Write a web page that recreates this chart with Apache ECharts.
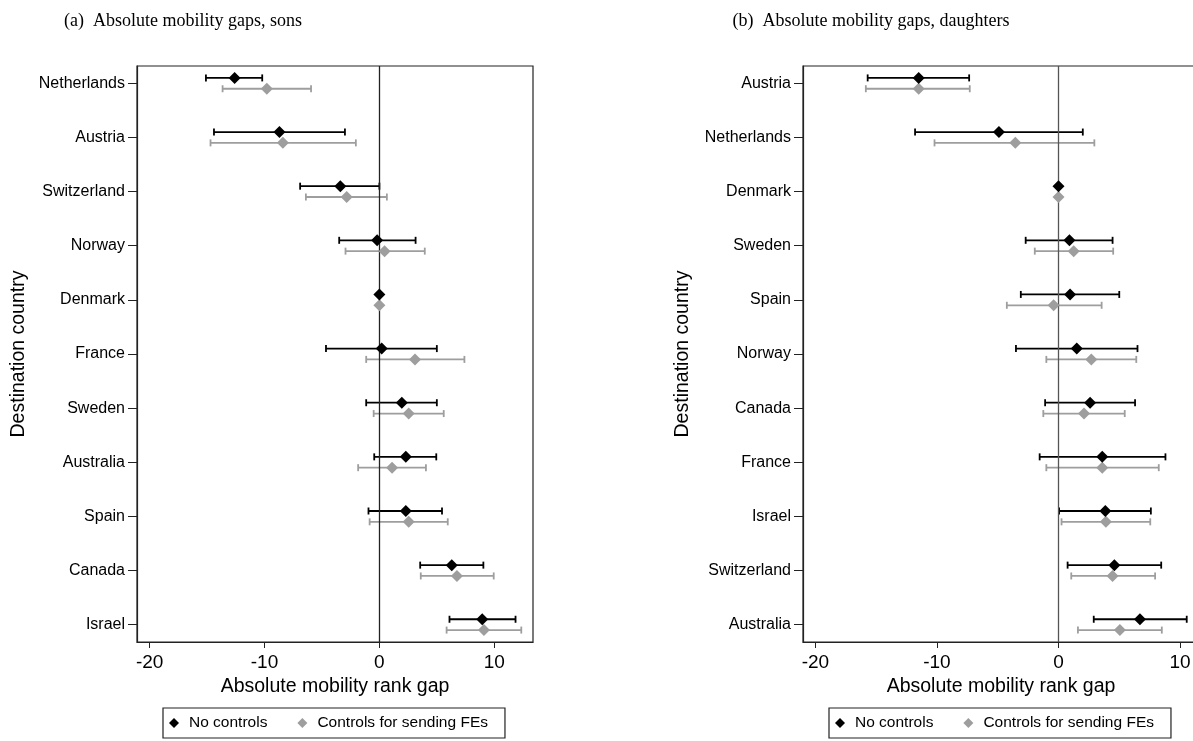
<!DOCTYPE html>
<html>
<head>
<meta charset="utf-8">
<script src="https://cdn.jsdelivr.net/npm/echarts@6/dist/echarts.min.js"></script>
<style>
  html, body { margin: 0; padding: 0; background: #fff; }
  #chart { width: 1193px; height: 741px; }
</style>
</head>
<body>
<div id="chart"></div>
<script>
// ---------- Data ----------
const panelTitles = ["(a)  Absolute mobility gaps, sons", "(b)  Absolute mobility gaps, daughters"];
const xTickValues = [-20, -10, 0, 10];
const seriesNames = ["No controls", "Controls for sending FEs"];

// Panel (a): sons, top to bottom
const sonsCountries = ["Netherlands", "Austria", "Switzerland", "Norway", "Denmark", "France", "Sweden", "Australia", "Spain", "Canada", "Israel"];
const sonsNoCtrl    = [-12.6, -8.7, -3.4, -0.2, 0, 0.2, 1.95, 2.3, 2.3, 6.3, 8.95];
const sonsNoCtrlLo  = [-15.1, -14.4, -6.9, -3.5, null, -4.65, -1.15, -0.45, -0.95, 3.55, 6.1];
const sonsNoCtrlHi  = [-10.2, -3.0, 0.0, 3.15, null, 5.0, 5.0, 4.95, 5.45, 9.05, 11.85];
const sonsFE        = [-9.8, -8.4, -2.85, 0.45, 0, 3.1, 2.55, 1.1, 2.55, 6.75, 9.1];
const sonsFELo      = [-13.65, -14.7, -6.4, -2.95, null, -1.15, -0.5, -1.85, -0.85, 3.6, 5.85];
const sonsFEHi      = [-5.95, -2.05, 0.65, 3.95, null, 7.4, 5.6, 4.05, 5.95, 9.95, 12.35];

// Panel (b): daughters, top to bottom
const daughtersCountries = ["Austria", "Netherlands", "Denmark", "Sweden", "Spain", "Norway", "Canada", "France", "Israel", "Switzerland", "Australia"];
const daughtersNoCtrl    = [-11.5, -4.9, 0, 0.9, 0.95, 1.5, 2.6, 3.6, 3.85, 4.6, 6.7];
const daughtersNoCtrlLo  = [-15.7, -11.8, null, -2.7, -3.1, -3.5, -1.1, -1.55, 0.05, 0.75, 2.9];
const daughtersNoCtrlHi  = [-7.35, 2.0, null, 4.45, 5.0, 6.5, 6.3, 8.8, 7.6, 8.45, 10.55];
const daughtersFE        = [-11.5, -3.55, 0, 1.25, -0.4, 2.7, 2.1, 3.6, 3.9, 4.45, 5.05];
const daughtersFELo      = [-15.85, -10.2, null, -1.95, -4.25, -1.0, -1.25, -1.0, 0.25, 1.05, 1.6];
const daughtersFEHi      = [-7.3, 2.95, null, 4.5, 3.55, 6.4, 5.45, 8.25, 7.55, 7.95, 8.5];

// ---------- Styling ----------
const SANS = "'Liberation Sans', Arial, Helvetica, sans-serif";
const SERIF = "'Liberation Serif', 'Times New Roman', serif";
const BLACK = "#000000";
const GREY = "#9e9e9e";
const ROW_SHIFT = 0.1;

const panels = [
  { countries: sonsCountries, a: sonsNoCtrl, aLo: sonsNoCtrlLo, aHi: sonsNoCtrlHi,
    b: sonsFE, bLo: sonsFELo, bHi: sonsFEHi,
    grid: { left: 137, width: 396, top: 66, bottom: 99 },
    xMin: -21.1, xMax: 13.37, zeroColor: "#222", nameShift: 0, yNameGap: 108,
    titleX: 178, legendLeft: 163 },
  { countries: daughtersCountries, a: daughtersNoCtrl, aLo: daughtersNoCtrlLo, aHi: daughtersNoCtrlHi,
    b: daughtersFE, bLo: daughtersFELo, bHi: daughtersFEHi,
    grid: { left: 803, width: 418, top: 66, bottom: 99 },
    xMin: -21.02, xMax: 13.37, zeroColor: "#555", nameShift: 22, yNameGap: 110,
    titleX: 866, legendLeft: 829 }
];

function errorBarRender(color) {
  return function (params, api) {
    const lo = api.value(0), hi = api.value(1), y = api.value(2);
    if (lo == null || hi == null || isNaN(lo) || isNaN(hi)) return null;
    const p1 = api.coord([lo, y]);
    const p2 = api.coord([hi, y]);
    const cap = 3.5;
    const style = { stroke: color, lineWidth: 1.8 };
    return {
      type: 'group',
      children: [
        { type: 'line', shape: { x1: p1[0], y1: p1[1], x2: p2[0], y2: p2[1] }, style },
        { type: 'line', shape: { x1: p1[0], y1: p1[1] - cap, x2: p1[0], y2: p1[1] + cap }, style },
        { type: 'line', shape: { x1: p2[0], y1: p2[1] - cap, x2: p2[0], y2: p2[1] + cap }, style }
      ]
    };
  };
}

const option = {
  animation: false,
  backgroundColor: '#ffffff',
  title: [], grid: [], xAxis: [], yAxis: [], series: [], legend: []
};

panels.forEach((p, i) => {
  const rows = p.countries.map((_, k) => k);
  option.title.push({
    text: panelTitles[i], left: p.titleX, top: 7, textAlign: 'center',
    textStyle: { fontFamily: SERIF, fontSize: 18, fontWeight: 'normal', color: '#000' }
  });
  option.grid.push(Object.assign({
    show: true, borderColor: '#222', borderWidth: 1.2, backgroundColor: '#fff',
    containLabel: false, outerBoundsMode: 'none'
  }, p.grid));
  option.xAxis.push({
    type: 'value', gridIndex: i, min: p.xMin, max: p.xMax,
    name: 'Absolute mobility rank gap', nameLocation: 'middle', nameGap: 34,
    nameTextStyle: { fontFamily: SANS, fontSize: 19.5, color: '#000', padding: [0, p.nameShift, 0, 0] },
    axisLine: { show: true, onZero: false, lineStyle: { color: '#222', width: 1.2 } },
    axisTick: { show: true, length: 6, customValues: xTickValues, lineStyle: { color: '#222' } },
    axisLabel: { customValues: xTickValues, margin: 11, fontFamily: SANS, fontSize: 19, color: '#000' },
    splitLine: { show: false }
  });
  option.yAxis.push({
    type: 'value', gridIndex: i, min: -0.32, max: 10.32, inverse: true,
    name: 'Destination country', nameLocation: 'middle', nameGap: p.yNameGap,
    nameTextStyle: { fontFamily: SANS, fontSize: 19.5, color: '#000' },
    axisLine: { show: true, onZero: false, lineStyle: { color: '#222', width: 1.2 } },
    axisTick: { show: true, length: 9, customValues: rows, lineStyle: { color: '#222' } },
    axisLabel: {
      customValues: rows, margin: 12, fontFamily: SANS, fontSize: 16, color: '#000',
      formatter: (v) => p.countries[Math.round(v)]
    },
    splitLine: { show: false }
  });

  const ciA = p.countries.map((_, k) => [p.aLo[k], p.aHi[k], k - ROW_SHIFT]);
  const ciB = p.countries.map((_, k) => [p.bLo[k], p.bHi[k], k + ROW_SHIFT]);
  const ptA = p.countries.map((_, k) => [p.a[k], k - ROW_SHIFT]);
  const ptB = p.countries.map((_, k) => [p.b[k], k + ROW_SHIFT]);

  option.series.push({
    type: 'scatter', name: 'zero-line-' + i, xAxisIndex: i, yAxisIndex: i, data: [], silent: true,
    markLine: { silent: true, symbol: ['none', 'none'], label: { show: false },
      lineStyle: { color: p.zeroColor, type: 'solid', width: 1.3 }, data: [{ xAxis: 0 }] }
  });
  option.series.push({
    type: 'custom', name: 'ci-fe-' + i, xAxisIndex: i, yAxisIndex: i, data: ciB,
    encode: { x: [0, 1], y: 2 }, renderItem: errorBarRender(GREY), silent: true, z: 3
  });
  option.series.push({
    type: 'custom', name: 'ci-none-' + i, xAxisIndex: i, yAxisIndex: i, data: ciA,
    encode: { x: [0, 1], y: 2 }, renderItem: errorBarRender(BLACK), silent: true, z: 3
  });
  option.series.push({
    type: 'scatter', name: seriesNames[1], xAxisIndex: i, yAxisIndex: i, data: ptB,
    symbol: 'diamond', symbolSize: 12, itemStyle: { color: GREY, opacity: 1 }, z: 5
  });
  option.series.push({
    type: 'scatter', name: seriesNames[0], xAxisIndex: i, yAxisIndex: i, data: ptA,
    symbol: 'diamond', symbolSize: 12, itemStyle: { color: BLACK, opacity: 1 }, z: 6
  });

  option.legend.push({
    left: p.legendLeft, top: 708, orient: 'horizontal',
    data: [
      { name: seriesNames[0], icon: 'diamond', itemStyle: { color: BLACK } },
      { name: seriesNames[1], icon: 'diamond', itemStyle: { color: GREY } }
    ],
    itemWidth: 10, itemHeight: 10, itemGap: 30,
    padding: [7, 17, 7, 6],
    borderColor: '#222', borderWidth: 1.2, selectedMode: false,
    textStyle: { fontFamily: SANS, fontSize: 15.5, color: '#000', padding: [0, 0, 0, 5] }
  });
});

const chart = echarts.init(document.getElementById('chart'), null, { renderer: 'canvas' });
chart.setOption(option);
</script>
</body>
</html>
